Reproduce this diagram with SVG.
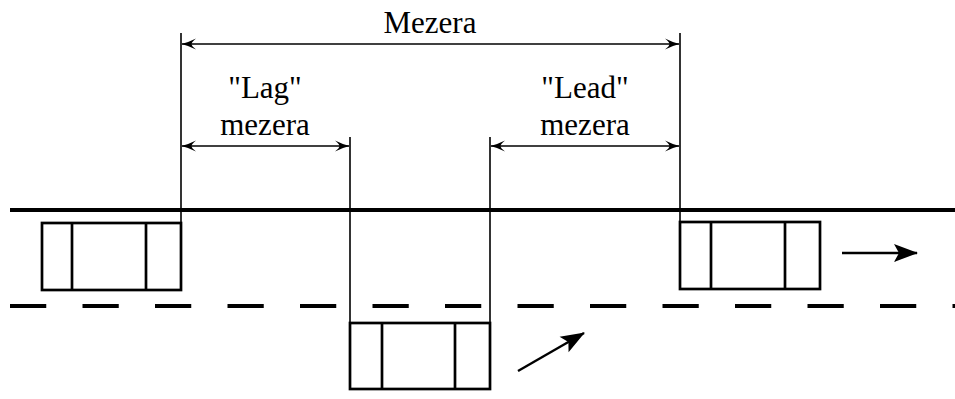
<svg xmlns="http://www.w3.org/2000/svg" width="955" height="399" viewBox="0 0 955 399">
  <style>
    .road { stroke: #000; stroke-width: 4; fill: none; }
    .lane { stroke: #000; stroke-width: 4; fill: none; stroke-dasharray: 36.25 36.25; }
    .car { stroke: #000; stroke-width: 2.7; fill: none; }
    .ext { stroke: #000; stroke-width: 1.6; fill: none; }
    .dim { stroke: #000; stroke-width: 1.6; fill: none; marker-start: url(#dimHead); marker-end: url(#dimHead); }
    .move { stroke: #000; stroke-width: 2.4; fill: none; marker-end: url(#moveHead); }
    text { font-family: "Liberation Serif", "DejaVu Serif", serif; font-size: 31px; fill: #000; text-anchor: middle; }
  </style>
  <defs>
    <!-- curved spear head for dimension lines -->
    <marker id="dimHead" markerUnits="userSpaceOnUse" viewBox="-17 -9 18 18" refX="0" refY="0" markerWidth="18" markerHeight="18" orient="auto-start-reverse">
      <path d="M0.5,0 Q-6,-1.5 -14,-5.5 Q-9.5,-2 -9.5,0 Q-9.5,2 -14,5.5 Q-6,1.5 0.5,0 Z" fill="#000"/>
    </marker>
    <!-- solid head for direction of travel -->
    <marker id="moveHead" markerUnits="userSpaceOnUse" viewBox="-30 -12 32 24" refX="0" refY="0" markerWidth="32" markerHeight="24" orient="auto">
      <path d="M1,0 L-23,-9 L-18,0 L-23,9 Z" fill="#000"/>
    </marker>
  </defs>

  <!-- road markings -->
  <g id="road">
    <line class="road" x1="10" y1="210" x2="955" y2="210"/>
    <line class="lane" x1="10" y1="306" x2="955" y2="306"/>
  </g>

  <!-- vehicles -->
  <g id="car-lag">
    <rect class="car" x="42" y="223" width="139" height="67"/>
    <line class="car" x1="72" y1="223" x2="72" y2="290"/>
    <line class="car" x1="146" y1="223" x2="146" y2="290"/>
  </g>
  <g id="car-merging">
    <rect class="car" x="350" y="323" width="140" height="66"/>
    <line class="car" x1="382" y1="323" x2="382" y2="389"/>
    <line class="car" x1="455" y1="323" x2="455" y2="389"/>
  </g>
  <g id="car-lead">
    <rect class="car" x="680" y="222" width="140" height="67"/>
    <line class="car" x1="711" y1="222" x2="711" y2="289"/>
    <line class="car" x1="785" y1="222" x2="785" y2="289"/>
  </g>

  <!-- extension lines and dimensions -->
  <g id="connectors">
    <line class="ext" x1="181" y1="33" x2="181" y2="223"/>
    <line class="ext" x1="680" y1="33" x2="680" y2="222"/>
    <line class="ext" x1="350" y1="137" x2="350" y2="323"/>
    <line class="ext" x1="490" y1="137" x2="490" y2="323"/>
    <line class="dim" x1="182" y1="44" x2="679" y2="44"/>
    <line class="dim" x1="182" y1="146" x2="349" y2="146"/>
    <line class="dim" x1="491" y1="146" x2="679" y2="146"/>
    <line class="move" x1="842" y1="253" x2="917" y2="253"/>
    <line class="move" x1="518" y1="371" x2="584" y2="333"/>
  </g>

  <!-- labels -->
  <g id="labels">
    <text x="430" y="33">Mezera</text>
    <text x="265" y="98">"Lag"</text>
    <text x="265" y="135">mezera</text>
    <text x="585" y="98">"Lead"</text>
    <text x="585" y="135">mezera</text>
  </g>
</svg>
